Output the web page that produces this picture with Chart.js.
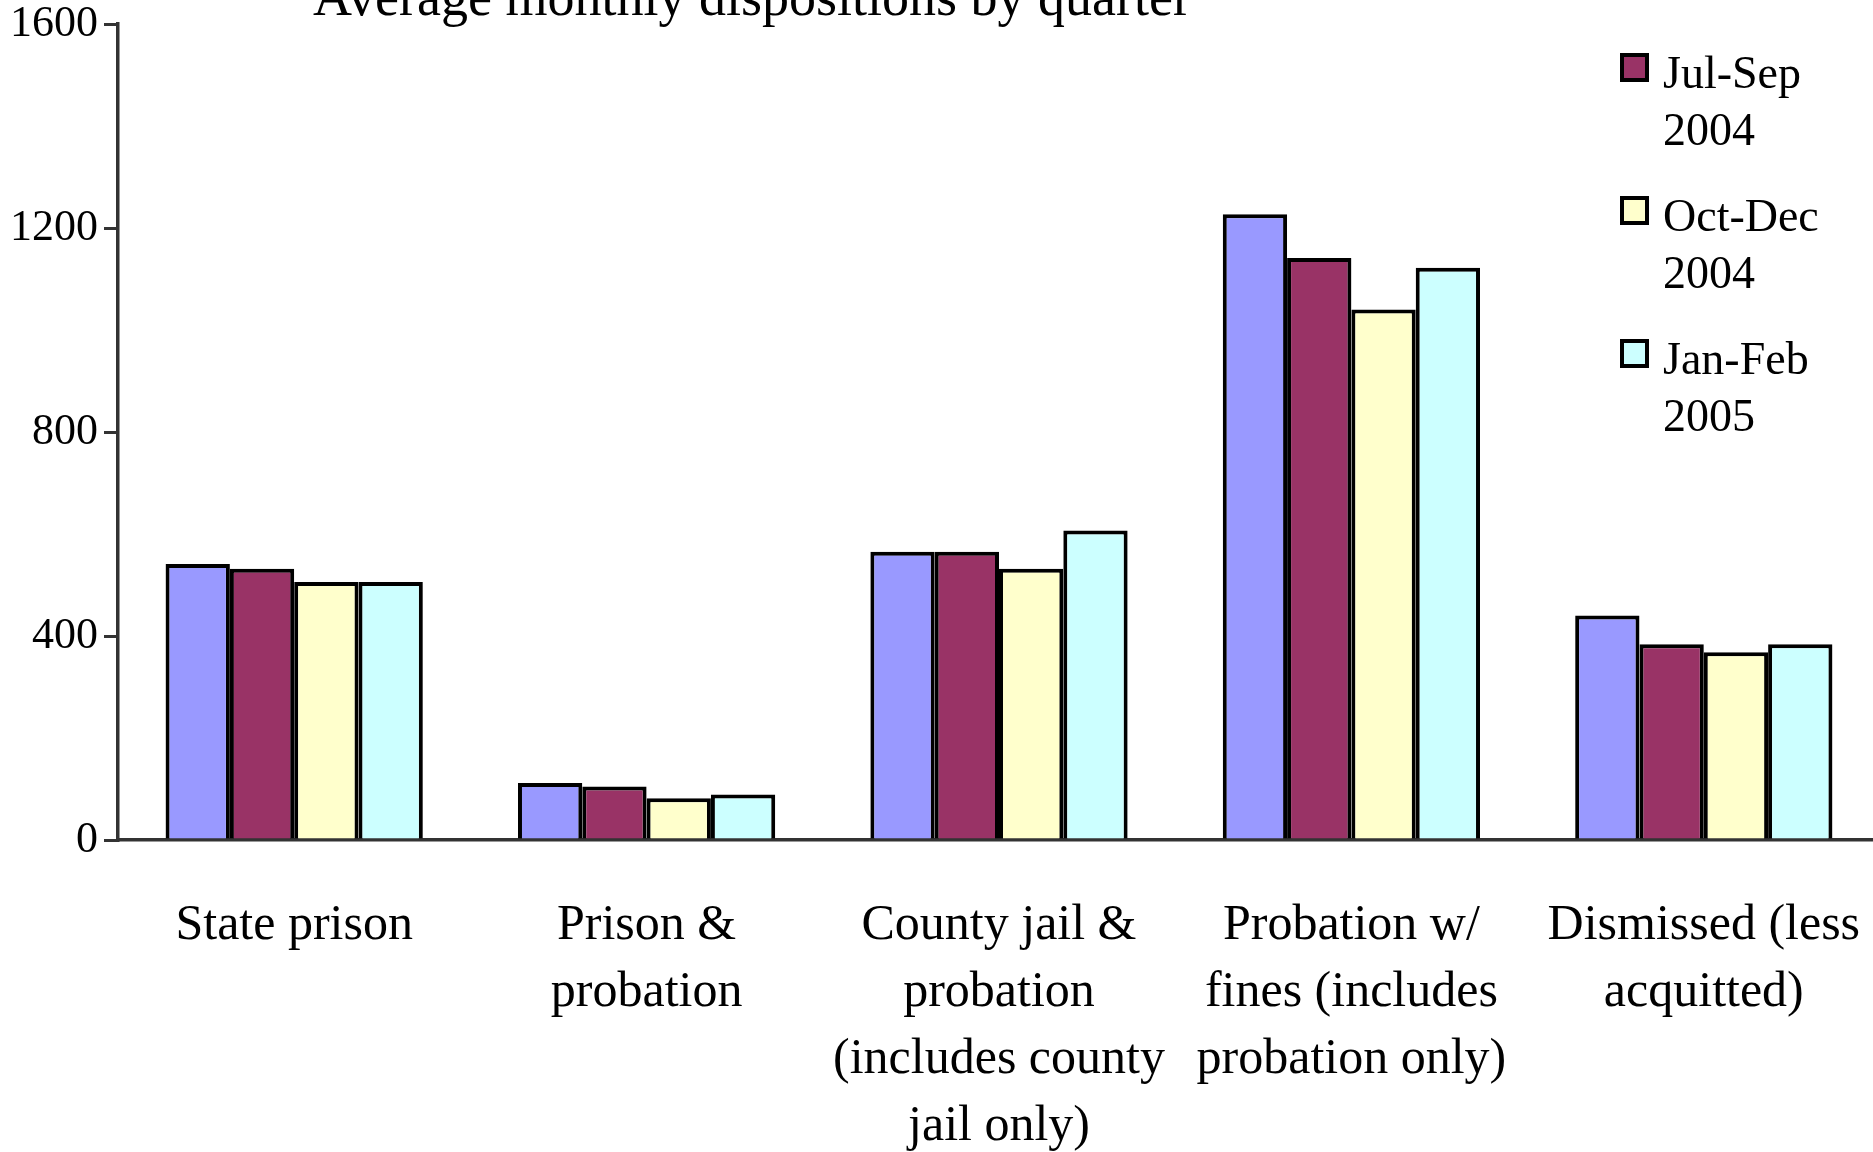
<html>
<script src="https://cdn.jsdelivr.net/npm/chart.js@4.4.0/dist/chart.umd.min.js"></script>
<style>
  body { margin: 0; overflow: hidden; background: white; }
  #wrap { position: absolute; left: 0; top: -60px; width: 1880px; height: 1212px; }
</style>
<body>
  <div id="wrap"><canvas id="dispChart" width="1880" height="1212"></canvas></div>
</body>
<script>
  // chart data
  var chartTitle = "Average monthly dispositions by quarter";
  var categories = [
    ["State prison"],
    ["Prison &", "probation"],
    ["County jail &", "probation", "(includes county", "jail only)"],
    ["Probation w/", "fines (includes", "probation only)"],
    ["Dismissed (less", "acquitted)"]
  ];
  var seriesNames = [
    ["Apr-Jun", "2004"],
    ["Jul-Sep", "2004"],
    ["Oct-Dec", "2004"],
    ["Jan-Feb", "2005"]
  ];
  var aprJun2004 = [541, 112, 565, 1227, 440];
  var julSep2004 = [532, 105, 565, 1141, 384];
  var octDec2004 = [506, 82, 532, 1040, 368];
  var janFeb2005 = [506, 89, 607, 1122, 384];
  var yTicks = [0, 400, 800, 1200, 1600];

  var seriesColors = ["#9999FF", "#993366", "#FFFFCC", "#CCFFFF"];
  var serif = "'Liberation Serif', 'Times New Roman', serif";

  // draws title and the stacked two-line legend on top of the plot
  var overlayPlugin = {
    id: "overlay",
    afterDraw: function(chart) {
      var ctx = chart.ctx;
      ctx.save();
      ctx.fillStyle = "#000";
      ctx.font = "54px " + serif;
      ctx.textAlign = "center";
      ctx.textBaseline = "alphabetic";
      ctx.fillText(chartTitle, 752, 75);

      ctx.font = "46px " + serif;
      ctx.textAlign = "left";
      ctx.textBaseline = "middle";
      chart.data.datasets.forEach(function(ds, i) {
        var top = 115 + (i - 1) * 143;
        if (top < 0) return; // first entry sits above the visible page
        ctx.fillStyle = ds.backgroundColor;
        ctx.fillRect(1622, top, 25, 25);
        ctx.lineWidth = 4;
        ctx.strokeStyle = "#000";
        ctx.strokeRect(1622, top, 25, 25);
        ctx.fillStyle = "#000";
        ds.label.forEach(function(line, j) {
          ctx.fillText(line, 1663, top + 21 + j * 57);
        });
      });
      ctx.restore();
    }
  };

  var allSeries = [aprJun2004, julSep2004, octDec2004, janFeb2005];
  var datasets = allSeries.map(function(vals, i) {
    return {
      label: seriesNames[i],
      data: vals,
      backgroundColor: seriesColors[i],
      borderColor: "#000",
      borderWidth: 4,
      barPercentage: 1.0,
      categoryPercentage: 0.73
    };
  });

  var chart = new Chart(document.getElementById("dispChart"), {
    type: "bar",
    data: { labels: categories, datasets: datasets },
    options: {
      responsive: false,
      animation: false,
      layout: { padding: { top: 84, right: 0, left: 0, bottom: 0 } },
      plugins: {
        legend: { display: false },
        title: { display: false },
        tooltip: { enabled: false }
      },
      scales: {
        x: {
          grid: { display: false, drawTicks: false },
          border: { display: true, color: "#333", width: 3.5 },
          ticks: {
            color: "#000",
            font: { family: serif, size: 50, lineHeight: 1.34 },
            padding: 52,
            maxRotation: 0,
            autoSkip: false
          },
          afterFit: function(scale) {
            scale.height = 312;
            scale.paddingLeft = 0;
            scale.paddingRight = 0;
          }
        },
        y: {
          min: 0,
          max: 1600,
          afterBuildTicks: function(scale) {
            scale.ticks = yTicks.map(function(v) { return { value: v }; });
          },
          grid: { drawOnChartArea: false, drawTicks: true, tickLength: 14, color: "#333", lineWidth: 3 },
          border: { display: true, color: "#333", width: 3.5 },
          ticks: {
            color: "#000",
            font: { family: serif, size: 44 },
            padding: 6,
            callback: function(v) { return String(v); }
          },
          afterFit: function(scale) { scale.width = 118; }
        }
      }
    },
    plugins: [overlayPlugin]
  });
</script>
</html>
